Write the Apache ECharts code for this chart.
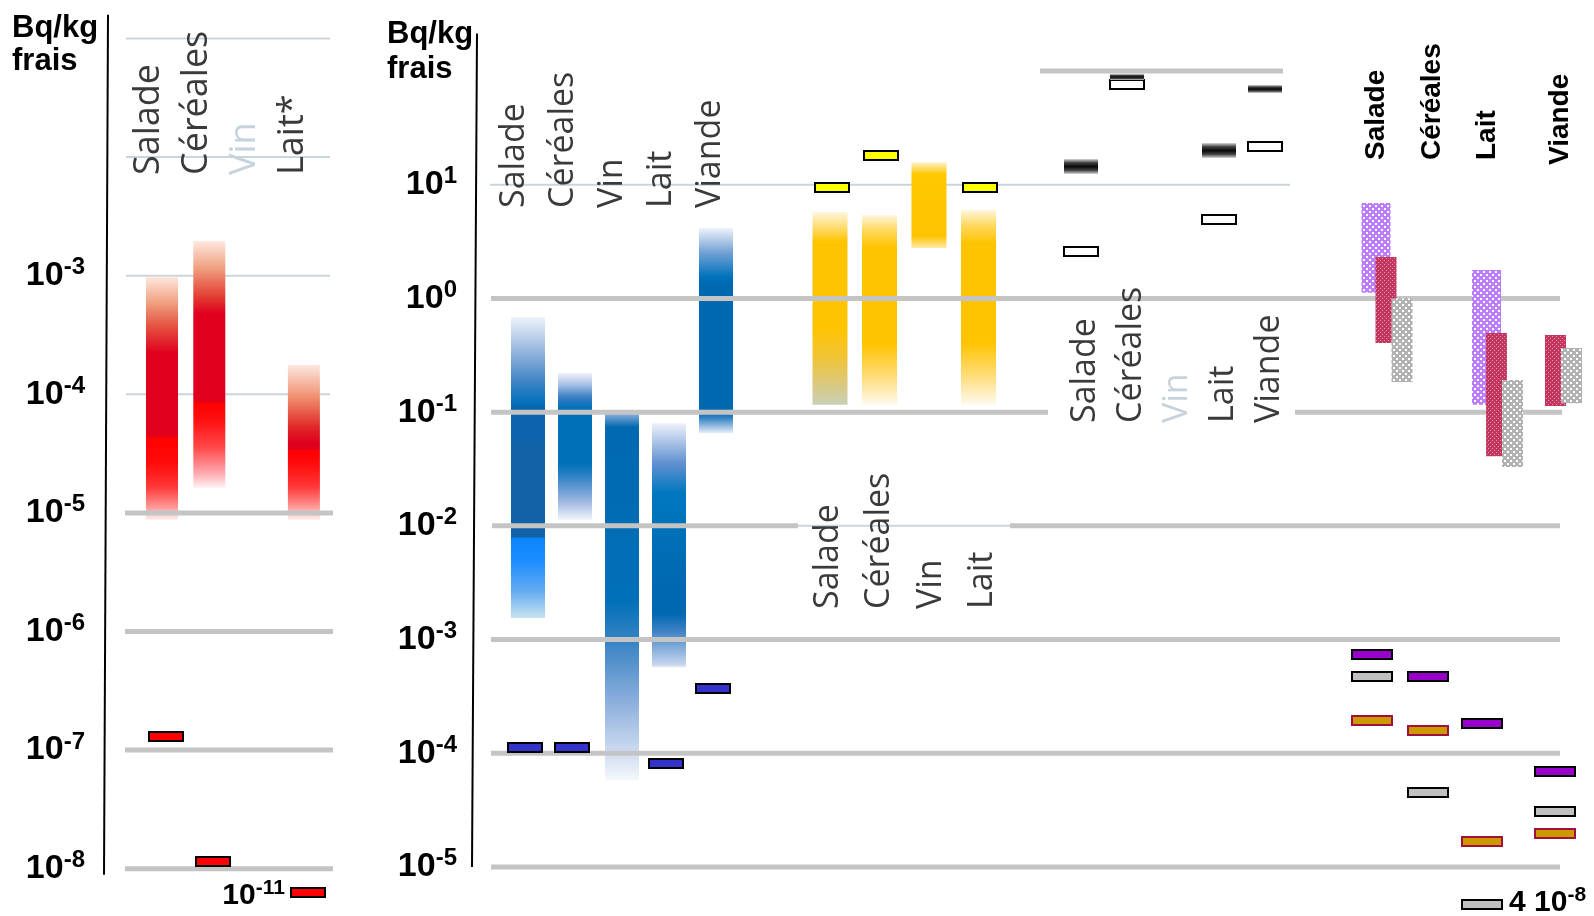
<!DOCTYPE html>
<html>
<head>
<meta charset="utf-8">
<title>Bq/kg frais</title>
<script src="https://cdn.jsdelivr.net/npm/echarts@6/dist/echarts.min.js"></script>
<style>
  html, body { margin: 0; padding: 0; background: #fff; }
  #chart { width: 1594px; height: 916px; }
</style>
</head>
<body>
<div id="chart"></div>
<script>
// ---------- values (Bq/kg frais) ----------
// left panel
const leftCats = ['Salade', 'Céréales', 'Vin', 'Lait*'];
const leftBand = [[8.7e-6, 9.8e-4], [1.62e-5, 1.96e-3], null, [8.7e-6, 1.77e-4]];
const leftMark = [1.31e-7, 1.14e-8, null, 1e-11];

// right panel, blue group
const blueCats = ['Salade', 'Céréales', 'Vin', 'Lait', 'Viande'];
const blueBand = [[1.55e-3, 0.687], [0.0112, 0.221], [5.8e-5, 0.100], [5.7e-4, 0.080], [0.0656, 4.16]];
const blueMark = [1.12e-4, 1.12e-4, null, 8.2e-5, 3.75e-4];

// right panel, yellow group
const yellowCats = ['Salade', 'Céréales', 'Vin', 'Lait'];
const yellowBand = [[0.116, 5.75], [0.116, 5.42], [2.77, 15.8], [0.116, 6.0]];
const yellowMark = [9.46, 17.9, null, 9.46];

// right panel, black / white markers
const greyCats = ['Salade', 'Céréales', 'Vin', 'Lait', 'Viande'];
const blackMark = [14.6, 88.5, null, 20.0, 69.5];
const whiteMark = [2.59, 76.1, null, 4.9, 21.7];

// right panel, hatched group
const hatchCats = ['Salade', 'Céréales', 'Lait', 'Viande'];
const hatchPurple = [[1.12, 6.9], null, [0.116, 1.78], null];
const hatchCrimson = [[0.405, 2.31], null, [0.041, 0.497], [0.113, 0.477]];
const hatchGrey = [[0.184, 0.998], null, [0.033, 0.192], [0.120, 0.366]];
const dotPurple = [7.4e-4, 4.74e-4, 1.83e-4, 6.9e-5];
const dotGrey = [4.74e-4, 4.48e-5, 4e-8, 3.05e-5];
const dotOrange = [1.94e-4, 1.59e-4, 1.67e-5, 1.97e-5];

// decades (exponents of 10)
const leftDecades = [-1, -2, -3, -4, -5, -6, -7, -8];
const leftTicks = [-3, -4, -5, -6, -7, -8];
const rightDecades = [2, 1, 0, -1, -2, -3, -4, -5];
const rightTicks = [1, 0, -1, -2, -3, -4, -5];

// ---------- layout / styles ----------
const pw = e => Math.pow(10, e);
const LEFT = { min: pw(-8.3), max: pw(-0.9) };
const RIGHT = { min: pw(-5.43), max: pw(2.3) };
// values under the axis minimum are put just below the last decade and labelled
const shown = (v, ax) => (v < ax.min ? ax.min * pw(0.1) : v);

const FONT_NUM = '"Liberation Sans", Arial, sans-serif';
const FONT_CAT = '"Open Sans", "Noto Sans", sans-serif';
const TXT = '#3a3a3a', PALE = '#c6d3dc';

const L = {
  left:   { bar: [58, 47.3], barW: 32, mark: 4, markW: 34, label: [45, 47.8], labelBottom: 175, labelSize: 36, off: 'left' },
  blue:   { bar: [56, 47], barW: 34, mark: -3, markW: 34, label: [42, 49], labelBottom: 208, labelSize: 34 },
  yellow: { bar: [358, 49.5], barW: 35, mark: 1.5, markW: 34, label: [356, 51.5], labelBottom: 609, labelSize: 34 },
  grey:   { bar: [609, 46], mark: 0, markW: 34, label: [613, 46], labelBottom: 423, labelSize: 34 },
  hatch:  { cols: [899.5, 955.5, 1010, 1083], mark: 0, markW: 40, labelDx: 5, labelBottom: 160, labelSize: 28, off: 'right' }
};
const colX = (lay, i) => (lay.cols ? lay.cols[i] : lay.bar[0] + i * lay.bar[1]);
const labelX = (lay, i) => (lay.cols ? lay.cols[i] + lay.labelDx : lay.label[0] + i * lay.label[1]);

const THIN = { stroke: '#c9d5dd', lineWidth: 2 };
const THICK = { stroke: '#c4c4c4', lineWidth: 5 };
function leftRule(e) {
  return e >= -4 ? [[22, 226, THIN]] : [[21, 229, THICK]];
}
function rightRule(e) {
  if (e === 2) return [[568, 811, THICK]];
  if (e === 1) return [[18, 818, THIN]];
  if (e === -1) return [[19, 576, THICK], [823, 1090, THICK]];
  if (e === -2) return [[20, 326, THICK], [326, 538, THIN], [538, 1088, THICK]];
  return [[19, 1088, THICK]];
}

const redStops = [
  [[0, '#fde8e0'], [0.107, '#f0a080'], [0.206, '#e55040'], [0.313, '#e0001e'], [0.655, '#e0001e'], [0.66, '#ff0000'], [0.765, '#ff0a0a'], [0.864, '#ff3838'], [0.947, '#ff9898'], [1, '#fff2f2']],
  [[0, '#fde8e0'], [0.109, '#f0a080'], [0.23, '#e33a30'], [0.294, '#e0001e'], [0.65, '#e0001e'], [0.655, '#ff0000'], [0.726, '#ff1010'], [0.835, '#ff4848'], [0.94, '#ffa8b0'], [1, '#fff4f4']],
  null,
  [[0, '#fde8e0'], [0.206, '#f09070'], [0.4, '#e02828'], [0.503, '#e0001e'], [0.545, '#e0001e'], [0.55, '#ff0000'], [0.632, '#ff0a0a'], [0.787, '#ff3838'], [0.916, '#ff9898'], [1, '#fff2f2']]
];
const blueStops = [
  [[0, '#eef3fa'], [0.11, '#9ab8e0'], [0.219, '#3b82c4'], [0.286, '#0072bb'], [0.302, '#0b64ad'], [0.409, '#0b64ad'], [0.412, '#1262a8'], [0.731, '#1262a8'], [0.735, '#0a84ff'], [0.807, '#1a8cff'], [0.907, '#60aaf0'], [1, '#c8e2f2']],
  [[0, '#eef2fa'], [0.08, '#a8c0e4'], [0.163, '#3a7fc4'], [0.238, '#0070b8'], [0.612, '#0070b8'], [0.694, '#2a80c4'], [0.864, '#98b4e0'], [1, '#f2f6fc']],
  [[0, '#9ab8e0'], [0.041, '#0068b0'], [0.511, '#0070b8'], [0.628, '#3a84c4'], [0.783, '#8aaedc'], [0.938, '#d4e0f2'], [1, '#f6f8fc']],
  [[0, '#eef2fa'], [0.164, '#6090d0'], [0.287, '#0078c0'], [0.45, '#0070b8'], [0.676, '#0068b0'], [0.779, '#0068b0'], [0.848, '#3a80c4'], [0.99, '#c8d6ee'], [1, '#e8eef8']],
  [[0, '#eef2fa'], [0.122, '#6fa0d4'], [0.239, '#0072bc'], [0.278, '#0068b0'], [0.873, '#0068b0'], [0.922, '#2a7cc0'], [1, '#e4ecf8']]
];
const yellowStops = [
  [[0, '#fff6dc'], [0.08, '#ffdc70'], [0.155, '#ffc400'], [0.6, '#ffc400'], [0.75, '#f2c436'], [0.88, '#dcc878'], [1, '#c8d0b8']],
  [[0, '#fff6dc'], [0.08, '#ffd860'], [0.17, '#ffc400'], [0.68, '#ffc400'], [0.85, '#ffdc78'], [1, '#fffaf0']],
  [[0, '#fff2cc'], [0.14, '#ffc800'], [0.86, '#ffc400'], [1, '#ffeaa8']],
  [[0, '#fff6dc'], [0.08, '#ffd860'], [0.17, '#ffc400'], [0.68, '#ffc400'], [0.85, '#ffdc78'], [1, '#fffaf0']]
];
const blackH = [15, 6, null, 15, 8];

function grad(stops) {
  return new echarts.graphic.LinearGradient(0, 0, 0, 1, stops.map(s => ({ offset: s[0], color: s[1] })));
}

function tile(size, bg, dots, dotColor, dotSize) {
  const c = document.createElement('canvas');
  c.width = c.height = size;
  const g = c.getContext('2d');
  g.fillStyle = bg;
  g.fillRect(0, 0, size, size);
  g.fillStyle = dotColor;
  dots.forEach(d => g.fillRect(d[0], d[1], dotSize, dotSize));
  return { image: c, repeat: 'repeat' };
}
const fillPurple = tile(6, '#bd7dff', [[1, 1], [4, 4]], '#ffffff', 2);
const fillCrimson = tile(4, '#c2365f', [[0, 0], [2, 2]], '#e890aa', 1);
const fillGrey = tile(6, '#b2b2b2', [[1, 1], [4, 4]], '#ffffff', 2);

const mctx = document.createElement('canvas').getContext('2d');
function textWidth(t, font) {
  mctx.font = font;
  return mctx.measureText(t).width;
}

// "10" with a raised exponent, glyphs centred on y
function powerLabel(x, y, value, size, align) {
  const e = Math.floor(Math.log10(value) + 1e-9);
  const m = Math.round(value / pw(e));
  const base = m === 1 ? '10' : m + ' 10';
  const sup = String(e);
  const f1 = 'bold ' + size + 'px ' + FONT_NUM;
  const f2 = 'bold ' + Math.round(size * 0.7) + 'px ' + FONT_NUM;
  const w1 = textWidth(base, f1), w2 = textWidth(sup, f2);
  const x0 = align === 'right' ? x - w1 - w2 : x;
  return {
    type: 'group',
    children: [
      { type: 'text', x: x0, y: y, style: { text: base, font: f1, fill: '#000', align: 'left', verticalAlign: 'middle' } },
      { type: 'text', x: x0 + w1, y: y - size * 0.24, style: { text: sup, font: f2, fill: '#000', align: 'left', verticalAlign: 'middle' } }
    ]
  };
}

function custom(grid, z, data, renderItem) {
  return { type: 'custom', xAxisIndex: grid, yAxisIndex: grid, z: z, silent: true, clip: false, data: data, renderItem: renderItem };
}

function ruleSeries(grid, decades, ruleFn, style, z) {
  const data = [];
  decades.forEach(e => ruleFn(e).forEach(s => { if (s[2] === style) data.push([s[0], pw(e), s[1]]); }));
  return custom(grid, z, data, (params, api) => {
    const a = api.coord([api.value(0), api.value(1)]);
    const b = api.coord([api.value(2), api.value(1)]);
    return { type: 'line', shape: { x1: a[0], y1: a[1], x2: b[0], y2: b[1] }, style: Object.assign({}, style) };
  });
}

function tickSeries(grid, ticks, dx) {
  return custom(grid, 6, ticks.map(e => [0, pw(e)]), (params, api) => {
    const p = api.coord([0, api.value(1)]);
    return powerLabel(p[0] + dx, p[1], api.value(1), 34, 'right');
  });
}

function axisLineSeries(grid, ends, slant) {
  return custom(grid, 6, [[0, pw(ends[0])], [0, pw(ends[1])]], (params, api) => {
    if (params.dataIndex > 0) return null;
    const a = api.coord([slant, pw(ends[0])]);
    const b = api.coord([0, pw(ends[1])]);
    return { type: 'line', shape: { x1: a[0], y1: a[1], x2: b[0], y2: b[1] }, style: { stroke: '#000', lineWidth: 2 } };
  });
}

function bandSeries(grid, lay, bands, fillFor, z) {
  const data = [];
  bands.forEach((b, i) => { if (b) data.push([colX(lay, i), b[0], b[1], i]); });
  return custom(grid, z, data, (params, api) => {
    const x = api.value(0);
    const top = api.coord([x, api.value(2)]);
    const bot = api.coord([x, api.value(1)]);
    return {
      type: 'rect',
      shape: { x: top[0] - lay.barW / 2, y: top[1], width: lay.barW, height: bot[1] - top[1] },
      style: { fill: fillFor(api.value(3)) }
    };
  });
}

function markSeries(grid, ax, lay, values, look, z) {
  const data = [];
  values.forEach((v, i) => { if (v != null) data.push([colX(lay, i) + lay.mark, shown(v, ax), i, v]); });
  return custom(grid, z, data, (params, api) => {
    const i = api.value(2), raw = api.value(3);
    const c = api.coord([api.value(0), api.value(1)]);
    const s = look(i);
    const w = lay.markW, h = s.h || 9;
    const rect = {
      type: 'rect',
      shape: { x: Math.round(c[0] - w / 2), y: Math.round(c[1] - h / 2), width: w, height: h },
      style: { fill: s.fill, stroke: s.stroke || null, lineWidth: s.stroke ? 2 : 0 }
    };
    if (raw >= ax.min) return rect;
    const lbl = lay.off === 'left'
      ? powerLabel(c[0] - w / 2 - 6, c[1] + 3, raw, 30, 'right')
      : powerLabel(c[0] + w / 2 + 7, c[1] - 2, raw, 30, 'left');
    return { type: 'group', children: [rect, lbl] };
  });
}

function hatchSeries() {
  const data = [];
  hatchCats.forEach((c, i) => {
    let left = L.hatch.cols[i] - 10;
    if (hatchPurple[i]) { data.push([left + 14.5, hatchPurple[i][0], hatchPurple[i][1], 29, 0]); left += 14; }
    if (hatchCrimson[i]) { data.push([left + 10.5, hatchCrimson[i][0], hatchCrimson[i][1], 21, 1]); left += 16; }
    if (hatchGrey[i]) { data.push([left + 10.5, hatchGrey[i][0], hatchGrey[i][1], 21, 2]); }
  });
  const fills = [fillPurple, fillCrimson, fillGrey];
  return custom(1, 4, data, (params, api) => {
    const x = api.value(0), w = api.value(3);
    const top = api.coord([x, api.value(2)]);
    const bot = api.coord([x, api.value(1)]);
    return {
      type: 'rect',
      shape: { x: top[0] - w / 2, y: top[1], width: w, height: bot[1] - top[1] },
      style: { fill: fills[api.value(4)] }
    };
  });
}

function labelSeries(grid, ax, lay, cats, opts) {
  return custom(grid, 7, cats.map((c, i) => [labelX(lay, i), ax.max, i]), (params, api) => {
    const i = api.value(2);
    const p = api.coord([api.value(0), ax.max]);
    const name = cats[i];
    return {
      type: 'text',
      x: p[0],
      y: lay.labelBottom + ((opts.dy && opts.dy[i]) || 0),
      rotation: Math.PI / 2,
      style: {
        text: name,
        font: (opts.bold ? 'bold ' : '') + lay.labelSize + 'px ' + (opts.bold ? FONT_NUM : FONT_CAT),
        fill: (opts.pale && opts.pale.indexOf(name) >= 0) ? PALE : opts.color,
        align: 'left',
        verticalAlign: 'middle'
      }
    };
  });
}

const chart = echarts.init(document.getElementById('chart'));

const titleFont = 'bold 31px ' + FONT_NUM;
const option = {
  animation: false,
  backgroundColor: '#fff',
  grid: [
    { left: 104, top: 26.64, width: 236, height: 877.66 },
    { left: 472, top: 36.9, width: 1122, height: 879.0 }
  ],
  xAxis: [
    { gridIndex: 0, type: 'value', min: 0, max: 236, show: false },
    { gridIndex: 1, type: 'value', min: 0, max: 1122, show: false }
  ],
  yAxis: [
    { gridIndex: 0, type: 'log', min: LEFT.min, max: LEFT.max, show: false },
    { gridIndex: 1, type: 'log', min: RIGHT.min, max: RIGHT.max, show: false }
  ],
  graphic: [
    { type: 'text', x: 12, y: 28, style: { text: 'Bq/kg', font: titleFont, fill: '#000', align: 'left', verticalAlign: 'middle' } },
    { type: 'text', x: 12, y: 61, style: { text: 'frais', font: titleFont, fill: '#000', align: 'left', verticalAlign: 'middle' } },
    { type: 'text', x: 387, y: 34, style: { text: 'Bq/kg', font: titleFont, fill: '#000', align: 'left', verticalAlign: 'middle' } },
    { type: 'text', x: 387, y: 69, style: { text: 'frais', font: titleFont, fill: '#000', align: 'left', verticalAlign: 'middle' } }
  ],
  series: [
    // left panel
    ruleSeries(0, leftDecades, leftRule, THIN, 1),
    bandSeries(0, L.left, leftBand, i => grad(redStops[i]), 2),
    ruleSeries(0, leftDecades, leftRule, THICK, 3),
    markSeries(0, LEFT, L.left, leftMark, () => ({ fill: '#ff0000', stroke: '#000' }), 5),
    tickSeries(0, leftTicks, -19),
    axisLineSeries(0, [-0.8, -8.05], 4),
    labelSeries(0, LEFT, L.left, leftCats, { color: TXT, pale: ['Vin'] }),

    // right panel
    ruleSeries(1, rightDecades, rightRule, THIN, 1),
    bandSeries(1, L.blue, blueBand, i => grad(blueStops[i]), 2),
    bandSeries(1, L.yellow, yellowBand, i => grad(yellowStops[i]), 2),
    ruleSeries(1, rightDecades, rightRule, THICK, 3),
    hatchSeries(),
    markSeries(1, RIGHT, L.blue, blueMark, () => ({ fill: '#3333cc', stroke: '#000' }), 5),
    markSeries(1, RIGHT, L.yellow, yellowMark, () => ({ fill: '#ffff00', stroke: '#000' }), 5),
    markSeries(1, RIGHT, L.grey, whiteMark, () => ({ fill: '#ffffff', stroke: '#000' }), 5),
    markSeries(1, RIGHT, L.grey, blackMark, i => ({
      h: blackH[i],
      fill: grad([[0, '#d8d8d8'], [0.25, '#404040'], [0.5, '#0a0a0a'], [0.75, '#404040'], [1, '#d8d8d8']])
    }), 5),
    markSeries(1, RIGHT, L.hatch, dotPurple, () => ({ fill: '#9900cc', stroke: '#000' }), 5),
    markSeries(1, RIGHT, L.hatch, dotGrey, () => ({ fill: '#c0c0c0', stroke: '#000' }), 5),
    markSeries(1, RIGHT, L.hatch, dotOrange, () => ({ fill: '#cc9900', stroke: '#a0103a' }), 5),
    tickSeries(1, rightTicks, -15),
    axisLineSeries(1, [2.33, -5.0], 5),
    labelSeries(1, RIGHT, L.blue, blueCats, { color: TXT }),
    labelSeries(1, RIGHT, L.yellow, yellowCats, { color: TXT }),
    labelSeries(1, RIGHT, L.grey, greyCats, { color: TXT, pale: ['Vin'] }),
    labelSeries(1, RIGHT, L.hatch, hatchCats, { color: '#000', bold: true, dy: [0, 0, 0, 5] })
  ]
};
chart.setOption(option);
</script>
</body>
</html>
